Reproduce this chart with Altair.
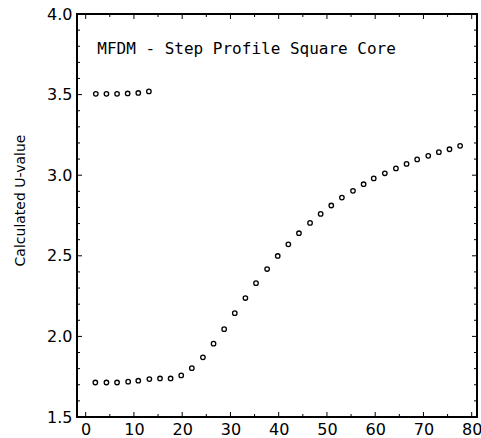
import altair as alt
import pandas as pd

# ---- data ----
upper_x = [2.1, 4.3, 6.5, 8.7, 10.9, 13.1]
upper_y = [3.505, 3.505, 3.505, 3.507, 3.510, 3.520]

lower_x = [2.0, 4.3, 6.5, 8.8, 10.9, 13.2, 15.4, 17.6, 19.8, 22.0, 24.3, 26.5,
           28.7, 30.9, 33.1, 35.3, 37.6, 39.8, 42.0, 44.2, 46.5, 48.7, 50.9,
           53.1, 55.4, 57.6, 59.7, 62.0, 64.3, 66.5, 68.7, 71.0, 73.2, 75.4, 77.6]
lower_y = [1.714, 1.714, 1.714, 1.719, 1.725, 1.735, 1.739, 1.739, 1.758, 1.803,
           1.870, 1.955, 2.045, 2.144, 2.238, 2.330, 2.418, 2.499, 2.571, 2.640,
           2.704, 2.760, 2.812, 2.861, 2.903, 2.944, 2.980, 3.012, 3.042, 3.070,
           3.098, 3.120, 3.143, 3.161, 3.182]

x_major = [0, 10, 20, 30, 40, 50, 60, 70, 80]
x_minor = [5, 15, 25, 35, 45, 55, 65, 75]
y_major = [1.5, 2.0, 2.5, 3.0, 3.5, 4.0]
y_minor = [1.6, 1.7, 1.8, 1.9, 2.1, 2.2, 2.3, 2.4, 2.6, 2.7, 2.8, 2.9,
           3.1, 3.2, 3.3, 3.4, 3.6, 3.7, 3.8, 3.9]

label_text = "MFDM - Step Profile Square Core"
label_x = 2.4
label_y = 3.78

x_domain = [-1.8, 81.1]
y_domain = [1.5, 4.0]

W, H = 400, 403
FONT = "DejaVu Sans"

pts = pd.DataFrame({"x": upper_x + lower_x, "y": upper_y + lower_y})

xs = alt.Scale(domain=x_domain, nice=False, zero=False)
ys = alt.Scale(domain=y_domain, nice=False, zero=False)

points = alt.Chart(pts).mark_point(
    shape="circle", filled=False, size=20, stroke="black", strokeWidth=1.3, opacity=1
).encode(
    x=alt.X("x:Q", scale=xs, axis=alt.Axis(
        values=x_major, title=None, grid=False, ticks=False, domain=False,
        labelFont=FONT, labelFontSize=16, labelColor="black", labelPadding=4,
        labelFlush=False, labelOverlap=False)),
    y=alt.Y("y:Q", scale=ys, axis=alt.Axis(
        values=y_major, format=".1f", title="Calculated U-value", grid=False,
        ticks=False, domain=False, labelFont=FONT, labelFontSize=16,
        labelColor="black", labelPadding=5, labelFlush=False, labelOverlap=False,
        titleFont=FONT, titleFontSize=14, titleFontWeight="normal",
        titleColor="black", titleX=-57, titleY=186, titleAngle=-90,
        titleAlign="center", titleBaseline="middle")),
)

def xticks(vals, length):
    d = pd.DataFrame({"t": vals})
    bottom = alt.Chart(d).mark_rule(color="black", strokeWidth=1).encode(
        x=alt.X("t:Q", scale=xs), y=alt.value(H), y2=alt.value(H - length))
    top = alt.Chart(d).mark_rule(color="black", strokeWidth=1).encode(
        x=alt.X("t:Q", scale=xs), y=alt.value(0), y2=alt.value(length))
    return [bottom, top]

def yticks(vals, length):
    d = pd.DataFrame({"t": vals})
    left = alt.Chart(d).mark_rule(color="black", strokeWidth=1).encode(
        y=alt.Y("t:Q", scale=ys), x=alt.value(0), x2=alt.value(length))
    right = alt.Chart(d).mark_rule(color="black", strokeWidth=1).encode(
        y=alt.Y("t:Q", scale=ys), x=alt.value(W), x2=alt.value(W - length))
    return [left, right]

ann = alt.Chart(pd.DataFrame({"x": [label_x], "y": [label_y], "t": [label_text]})).mark_text(
    align="left", baseline="middle", font="DejaVu Sans Mono", fontSize=16, color="black"
).encode(x=alt.X("x:Q", scale=xs), y=alt.Y("y:Q", scale=ys), text="t:N")

layers = [points] + xticks(x_major, 5) + xticks(x_minor, 3) + yticks(y_major, 5) + yticks(y_minor, 3) + [ann]

chart = alt.layer(*layers).properties(
    width=W, height=H,
    autosize=alt.AutoSizeParams(type="none"),
    padding={"left": 77, "top": 14, "right": 4, "bottom": 21},
    background="white",
).configure_view(stroke="black", strokeWidth=2)

chart.save("out.html", embed_options={"renderer": "svg", "actions": False})
